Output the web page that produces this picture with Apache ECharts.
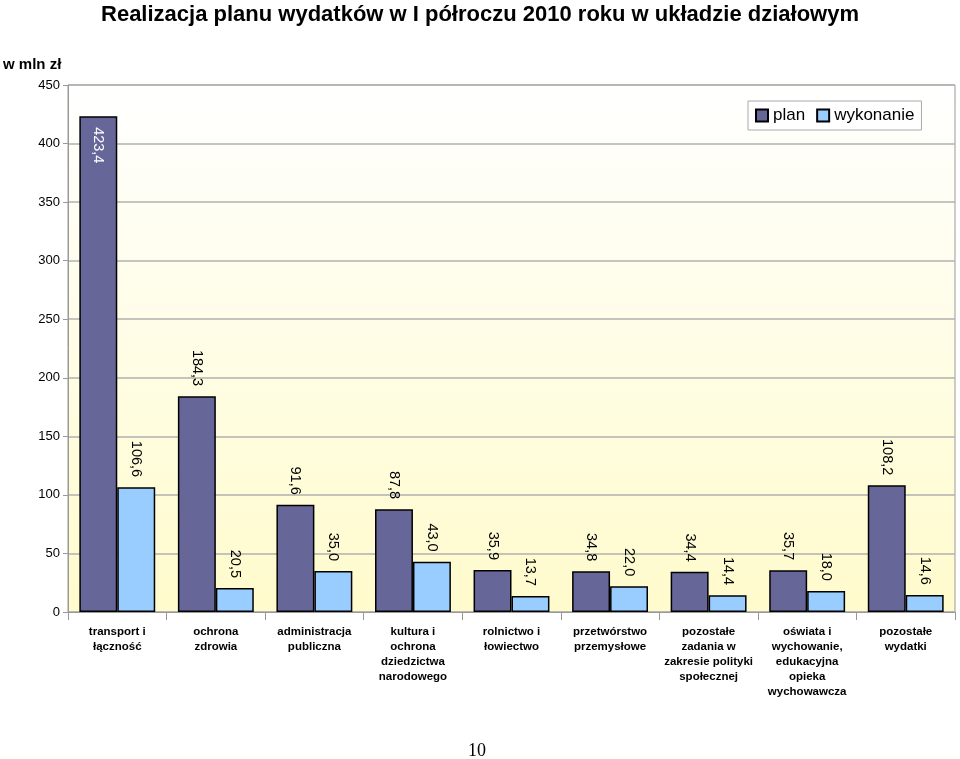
<!DOCTYPE html>
<html><head><meta charset="utf-8">
<script src="https://cdn.jsdelivr.net/npm/echarts@6/dist/echarts.min.js"></script>
<style>html,body{margin:0;padding:0;background:#fff}#c{width:960px;height:759px}</style>
</head><body><div id="c"></div>
<script>
const categories = ['transport i\nłączność','ochrona\nzdrowia','administracja\npubliczna','kultura i\nochrona\ndziedzictwa\nnarodowego','rolnictwo i\nłowiectwo','przetwórstwo\nprzemysłowe','pozostałe\nzadania w\nzakresie polityki\nspołecznej','oświata i\nwychowanie,\nedukacyjna\nopieka\nwychowawcza','pozostałe\nwydatki'];
const plan = [423.4, 184.3, 91.6, 87.8, 35.9, 34.8, 34.4, 35.7, 108.2];
const wykonanie = [106.6, 20.5, 35.0, 43.0, 13.7, 22.0, 14.4, 18.0, 14.6];
const seriesNames = ['plan', 'wykonanie'];

const fmt = v => v.toFixed(1).replace('.', ',');
const chart = echarts.init(document.getElementById('c'));
const topLabel = {
  show: true, position: 'top', rotate: -90, align: 'right', verticalAlign: 'middle',
  distance: 10, fontFamily: 'Liberation Sans, Arial', fontSize: 14.5, color: '#000',
  formatter: p => fmt(p.value)
};
const planData = plan.map((v, i) => i === 0 ? {
  value: v,
  label: { show: true, position: 'insideTop', rotate: -90, align: 'left', verticalAlign: 'middle', distance: 11, color: '#fff', fontFamily: 'Liberation Sans, Arial', fontSize: 14.5, formatter: p => fmt(p.value) }
} : v);

chart.setOption({
  animation: false,
  backgroundColor: '#fff',
  title: [{
    text: 'Realizacja planu wydatków w I półroczu 2010 roku w układzie działowym',
    left: 'center', top: -1,
    textStyle: { fontFamily: 'Liberation Sans, Arial', fontWeight: 'bold', fontSize: 22, color: '#000' }
  }, {
    text: 'w mln zł', left: -2, top: 52,
    textStyle: { fontFamily: 'Liberation Sans, Arial', fontWeight: 'bold', fontSize: 15, color: '#000' }
  }],
  legend: {
    data: seriesNames, left: 748, top: 101, orient: 'horizontal',
    padding: [6, 7, 6, 7], borderColor: '#aaa', borderWidth: 1, backgroundColor: '#fff',
    itemWidth: 12, itemHeight: 12, itemGap: 11, icon: 'rect',
    textStyle: { fontFamily: 'Liberation Sans, Arial', fontSize: 17, color: '#000' }
  },
  grid: {
    left: 68, right: 5, top: 85, bottom: 147, show: true, borderColor: '#999', borderWidth: 1,
    backgroundColor: new echarts.graphic.LinearGradient(0, 0, 0, 1, [
      { offset: 0, color: '#ffffff' }, { offset: 1, color: '#fffbcc' }
    ])
  },
  xAxis: {
    type: 'category', data: categories,
    axisLine: { lineStyle: { color: '#999' } },
    axisTick: { show: true, length: 8, lineStyle: { color: '#999' } },
    axisLabel: { interval: 0, margin: 12, fontFamily: 'Liberation Sans, Arial', fontWeight: 'bold', fontSize: 11.5, lineHeight: 15, color: '#000' }
  },
  yAxis: {
    type: 'value', min: 0, max: 450, interval: 50,
    axisLine: { show: true, lineStyle: { color: '#999' } },
    axisTick: { show: true, length: 5, lineStyle: { color: '#999' } },
    axisLabel: { margin: 8, fontFamily: 'Liberation Sans, Arial', fontSize: 13, color: '#000' },
    splitLine: { lineStyle: { color: '#b0b0b0', width: 1.5 } }
  },
  series: [{
    name: seriesNames[0], type: 'bar', data: planData, barGap: '0%', barCategoryGap: '23%',
    itemStyle: { color: '#666699', borderColor: '#000', borderWidth: 1.5 },
    label: topLabel
  }, {
    name: seriesNames[1], type: 'bar', data: wykonanie, barGap: '0%', barCategoryGap: '23%',
    itemStyle: { color: '#99ccff', borderColor: '#000', borderWidth: 1.5 },
    label: topLabel
  }],
  graphic: [{
    type: 'text', left: 468, top: 742,
    style: { text: '10', font: '18px "Liberation Serif", "DejaVu Serif", serif', fill: '#000' }
  }]
});
</script></body></html>
